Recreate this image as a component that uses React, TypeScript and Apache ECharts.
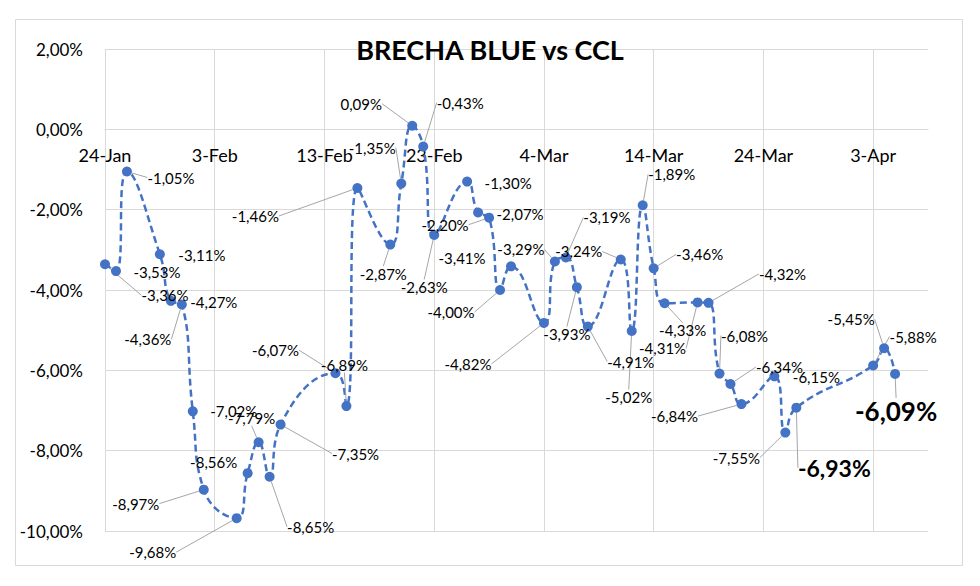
import React, { useEffect, useRef } from "react";
import * as echarts from "echarts";

const TITLE = "BRECHA BLUE vs CCL";

const DATES = [
  "2024-01-24", "2024-01-25", "2024-01-26", "2024-01-29", "2024-01-30", "2024-01-31",
  "2024-02-01", "2024-02-02", "2024-02-05", "2024-02-06", "2024-02-07", "2024-02-08", "2024-02-09",
  "2024-02-14", "2024-02-15", "2024-02-16", "2024-02-19", "2024-02-20", "2024-02-21", "2024-02-22",
  "2024-02-23", "2024-02-26", "2024-02-27", "2024-02-28", "2024-02-29",
  "2024-03-01", "2024-03-04", "2024-03-05", "2024-03-06", "2024-03-07", "2024-03-08", "2024-03-11",
  "2024-03-12", "2024-03-13", "2024-03-14", "2024-03-15", "2024-03-18", "2024-03-19", "2024-03-20",
  "2024-03-21", "2024-03-22", "2024-03-25", "2024-03-26", "2024-03-27",
  "2024-04-03", "2024-04-04", "2024-04-05",
];

const VALUES = [
  -3.36, -3.53, -1.05, -3.11, -4.27, -4.36,
  -7.02, -8.97, -9.68, -8.56, -7.79, -8.65, -7.35,
  -6.07, -6.89, -1.46, -2.87, -1.35, 0.09, -0.43,
  -2.63, -1.3, -2.07, -2.2, -4.0,
  -3.41, -4.82, -3.29, -3.19, -3.93, -4.91, -3.24,
  -5.02, -1.89, -3.46, -4.33, -4.31, -4.32, -6.08,
  -6.34, -6.84, -6.15, -7.55, -6.93,
  -5.88, -5.45, -6.09,
];

// x axis: date range and tick step (days)
const X_START = "2024-01-24";
const X_END = "2024-04-08";
const X_STEP_DAYS = 10;
const MONTHS = ["Jan", "Feb", "Mar", "Apr", "May", "Jun", "Jul", "Aug", "Sep", "Oct", "Nov", "Dec"];

// y axis
const Y_MIN = -10;
const Y_MAX = 2;
const Y_STEP = 2;
const X_CROSS_AT = 0; // horizontal axis crosses the vertical axis at this value

// highlighted labels: index -> font size
const BIG_LABELS: Record<number, number> = { 43: 23, 46: 26 };

// label placement relative to its point: [dx, dy, leader line]
const LABEL_OFFSETS: [number, number, boolean][] = [
  [60, 31, true], [41, 1, false], [44, 6, true], [42, 1, false], [43, 1, false], [-34, 35, true],
  [41, 0, false], [-68, 14, true], [-84, 34, true], [-34, -11, false], [-7, -24, true], [41, 50, true], [75, 29, true],
  [-60, -23, true], [-2, -41, true], [-102, 28, true], [-7, 29, true], [-29, -36, true], [-51, -22, true], [37, -44, true],
  [-10, 52, true], [41, 1, false], [42, 2, false], [-44, 7, true], [-49, 22, true],
  [-49, -8, false], [-76, 41, true], [-34, -12, true], [41, -40, true], [-10, 47, true], [43, 35, true], [-42, -8, true],
  [-3, 66, true], [29, -31, true], [46, -14, true], [18, 27, true], [-35, 46, true], [74, -29, true], [25, -38, true],
  [49, -17, true], [-67, 12, true], [42, 1, false], [-49, 25, true], [38, 60, true],
  [40, -29, true], [-33, -29, true], [1, 37, true],
];

const W = 980;
const H = 586;
const GRID = { left: 105, right: 52, top: 49, bottom: 55 };

const DAY = 86400000;
function toUTC(s: string) {
  const [y, m, d] = s.split("-").map(Number);
  return Date.UTC(y, m - 1, d);
}
const BASE = toUTC(X_START);
function dayIndex(s: string) {
  return Math.round((toUTC(s) - BASE) / DAY);
}
function fmtPct(v: number) {
  return v.toFixed(2).replace(".", ",") + "%";
}
function fmtDay(v: number) {
  const d = new Date(BASE + v * DAY);
  return `${d.getUTCDate()}-${MONTHS[d.getUTCMonth()]}`;
}

const FONT = "Lato, 'Noto Sans', sans-serif";

export default function App() {
  const ref = useRef<HTMLDivElement>(null);
  useEffect(() => {
    if (!ref.current) return;
    const chart = echarts.init(ref.current, undefined, { renderer: "svg" });
    const data = DATES.map((d, i) => {
      const big = BIG_LABELS[i];
      return {
        value: [dayIndex(d), VALUES[i]],
        label: big ? { fontSize: big, fontWeight: "bold" as const } : undefined,
        labelLine: { show: LABEL_OFFSETS[i][2] },
      };
    });
    const gridH = H - GRID.top - GRID.bottom;
    // move the horizontal axis up from the bottom edge to where it crosses zero
    const xAxisOffset = -gridH * (X_CROSS_AT - Y_MIN) / (Y_MAX - Y_MIN);
    chart.setOption({
      animation: false,
      backgroundColor: "#ffffff",
      textStyle: { fontFamily: FONT },
      title: {
        text: TITLE,
        left: "center",
        top: 31,
        textStyle: { fontFamily: FONT, fontSize: 27, fontWeight: "bold", color: "#000" },
      },
      graphic: [
        {
          type: "rect",
          shape: { x: 15.5, y: 19.5, width: 947, height: 546 },
          style: { fill: "none", stroke: "#d9d9d9", lineWidth: 1 },
          silent: true,
          z: -1,
        },
      ],
      grid: { ...GRID, containLabel: false },
      xAxis: {
        type: "value",
        min: 0,
        max: dayIndex(X_END),
        interval: X_STEP_DAYS,
        position: "bottom",
        offset: xAxisOffset,
        axisLine: { show: true, onZero: false, lineStyle: { color: "#d9d9d9", width: 1 } },
        axisTick: { show: false },
        axisLabel: {
          margin: 17,
          fontFamily: FONT,
          fontSize: 18,
          color: "#000",
          showMaxLabel: false,
          formatter: (v: number) => (v % X_STEP_DAYS === 0 ? fmtDay(v) : ""),
        },
        splitLine: { show: true, showMaxLine: false, lineStyle: { color: "#d9d9d9", width: 1 } },
      },
      yAxis: {
        type: "value",
        min: Y_MIN,
        max: Y_MAX,
        interval: Y_STEP,
        axisLine: { show: false, onZero: false },
        axisTick: { show: false },
        axisLabel: {
          margin: 22,
          fontFamily: FONT,
          fontSize: 17,
          color: "#000",
          formatter: (v: number) => fmtPct(v),
        },
        splitLine: { show: true, lineStyle: { color: "#d9d9d9", width: 1 } },
      },
      series: [
        {
          type: "line",
          data,
          smooth: 0.5,
          showAllSymbol: true,
          symbol: "circle",
          symbolSize: 10,
          itemStyle: { color: "#4472C4" },
          lineStyle: { color: "#4472C4", width: 2.5, type: [7, 4] },
          label: {
            show: true,
            fontFamily: FONT,
            fontSize: 15,
            color: "#000",
            formatter: (p: any) => fmtPct(p.value[1]),
          },
          labelLine: { show: true, lineStyle: { color: "#a6a6a6", width: 1 } },
          labelLayout: (p: any) => {
            const o = LABEL_OFFSETS[p.dataIndex];
            const cx = p.rect.x + p.rect.width / 2;
            const cy = p.rect.y + p.rect.height / 2;
            return { x: cx + o[0], y: cy + o[1], align: "center", verticalAlign: "middle" };
          },
          z: 3,
        },
      ],
    });
    return () => chart.dispose();
  }, []);
  return (
    <div
      ref={ref}
      style={{ position: "absolute", left: 0, top: 0, width: W, height: H }}
    />
  );
}
